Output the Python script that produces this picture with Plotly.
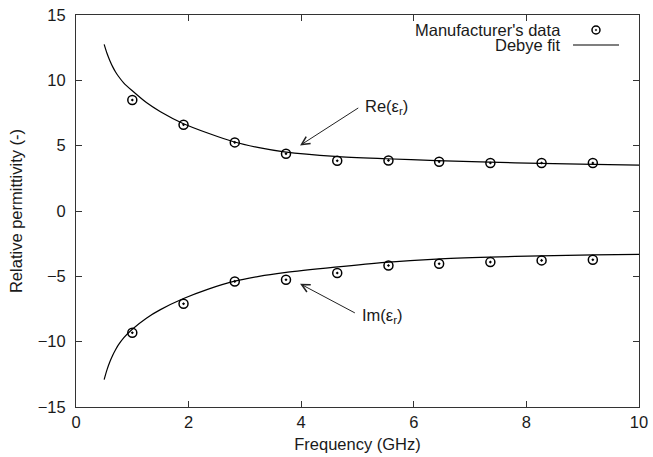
import plotly.graph_objects as go

# Manufacturer's data (points)
freq = [1.0, 1.91, 2.82, 3.73, 4.64, 5.55, 6.45, 7.36, 8.27, 9.18]
re_data = [8.49, 6.60, 5.25, 4.38, 3.85, 3.87, 3.77, 3.67, 3.67, 3.67]
im_data = [-9.32, -7.10, -5.39, -5.26, -4.74, -4.17, -4.04, -3.91, -3.78, -3.73]

# Debye fit (curve)
fit_freq = [0.5, 0.55, 0.6, 0.65, 0.7, 0.75, 0.85, 1.0, 1.25, 1.5, 1.9, 2.35, 2.8, 3.25, 3.7,
            4.6, 5.5, 6.4, 7.35, 8.25, 9.2, 10.0]
re_fit = [12.75, 12.07, 11.52, 11.05, 10.66, 10.33, 9.79, 9.2, 8.3, 7.6, 6.7, 5.95, 5.3, 4.85, 4.53,
          4.18, 4.0, 3.86, 3.74, 3.64, 3.57, 3.51]
im_fit = [-12.9, -12.16, -11.56, -11.06, -10.64, -10.27, -9.69, -9.05, -8.2, -7.55, -6.72, -5.98, -5.39,
          -5.0, -4.72, -4.3, -3.93, -3.68, -3.53, -3.43, -3.36, -3.32]

x_ticks = [0, 2, 4, 6, 8, 10]
y_ticks = [-15, -10, -5, 0, 5, 10, 15]

FONT = "Liberation Sans, Arial, Helvetica, sans-serif"
FS = 16.5
TXT = "#1a1a1a"
AX = "#333333"

fig = go.Figure()
marker = dict(symbol="circle-open-dot", size=9, color="black", line=dict(width=1.5, color="black"))
for ys in (re_fit, im_fit):
    fig.add_trace(go.Scatter(x=fit_freq, y=ys, mode="lines",
                             line=dict(color="black", width=1.2, shape="spline", smoothing=0.8),
                             showlegend=False, hoverinfo="skip"))
for ys in (re_data, im_data):
    fig.add_trace(go.Scatter(x=freq, y=ys, mode="markers", marker=marker, showlegend=False))

axis_common = dict(showline=True, linecolor=AX, linewidth=1, mirror="allticks", ticks="inside", ticklen=6,
                   tickcolor=AX, showgrid=False, zeroline=False, automargin=False,
                   tickfont=dict(family=FONT, size=FS, color=TXT),
                   title_font=dict(family=FONT, size=FS, color=TXT))

fig.update_xaxes(range=[0, 10], tickvals=x_ticks, title_text="Frequency (GHz)", title_standoff=8, **axis_common)
fig.update_yaxes(range=[-15, 15], tickvals=y_ticks, title_text="Relative permittivity (-)", title_standoff=10,
                 ticklabelstandoff=6, **axis_common)

ann_font = dict(family=FONT, size=FS, color=TXT)
annotations = [
    # arrows
    dict(x=3.98, y=5.02, ax=5.04, ay=7.96, xref="x", yref="y", axref="x", ayref="y", text="", showarrow=True,
         arrowhead=5, arrowsize=1.6, arrowwidth=1, arrowcolor="#222", standoff=0, startstandoff=0),
    dict(x=3.98, y=-5.57, ax=4.98, ay=-7.86, xref="x", yref="y", axref="x", ayref="y", text="", showarrow=True,
         arrowhead=5, arrowsize=1.6, arrowwidth=1, arrowcolor="#222", standoff=0, startstandoff=0),
    # labels
    dict(x=5.10, y=7.98, xref="x", yref="y", text="Re(ε<sub>r</sub>)", showarrow=False, xanchor="left",
         yanchor="middle", font=ann_font),
    dict(x=5.05, y=-8.0, xref="x", yref="y", text="Im(ε<sub>r</sub>)", showarrow=False, xanchor="left",
         yanchor="middle", font=ann_font),
    # legend texts
    dict(x=0.8645, y=0.9617, xref="paper", yref="paper", text="Manufacturer's data", showarrow=False,
         xanchor="right", yanchor="middle", font=ann_font),
    dict(x=0.8645, y=0.9235, xref="paper", yref="paper", text="Debye fit", showarrow=False,
         xanchor="right", yanchor="middle", font=ann_font),
]

shapes = [
    # legend key: circle with dot
    dict(type="circle", xref="paper", yref="paper", xsizemode="pixel", ysizemode="pixel",
         xanchor=0.9236, yanchor=0.9617, x0=-4, x1=4, y0=-4, y1=4, line=dict(color="black", width=1.5)),
    dict(type="circle", xref="paper", yref="paper", xsizemode="pixel", ysizemode="pixel",
         xanchor=0.9236, yanchor=0.9617, x0=-0.8, x1=0.8, y0=-0.8, y1=0.8, fillcolor="black",
         line=dict(color="black", width=0.5)),
    # legend key: line
    dict(type="line", xref="paper", yref="paper", x0=0.8828, x1=0.9645, y0=0.9235, y1=0.9235,
         line=dict(color="black", width=1.2)),
]

fig.update_layout(width=653, height=457, margin=dict(l=76, r=14, t=15, b=50), plot_bgcolor="white",
                  paper_bgcolor="white", annotations=annotations, shapes=shapes, showlegend=False,
                  font=dict(family=FONT, color=TXT))

fig.write_html("out.html", config={"displayModeBar": False},
               post_script="document.body.style.margin='0px';document.body.style.overflow='hidden';")
